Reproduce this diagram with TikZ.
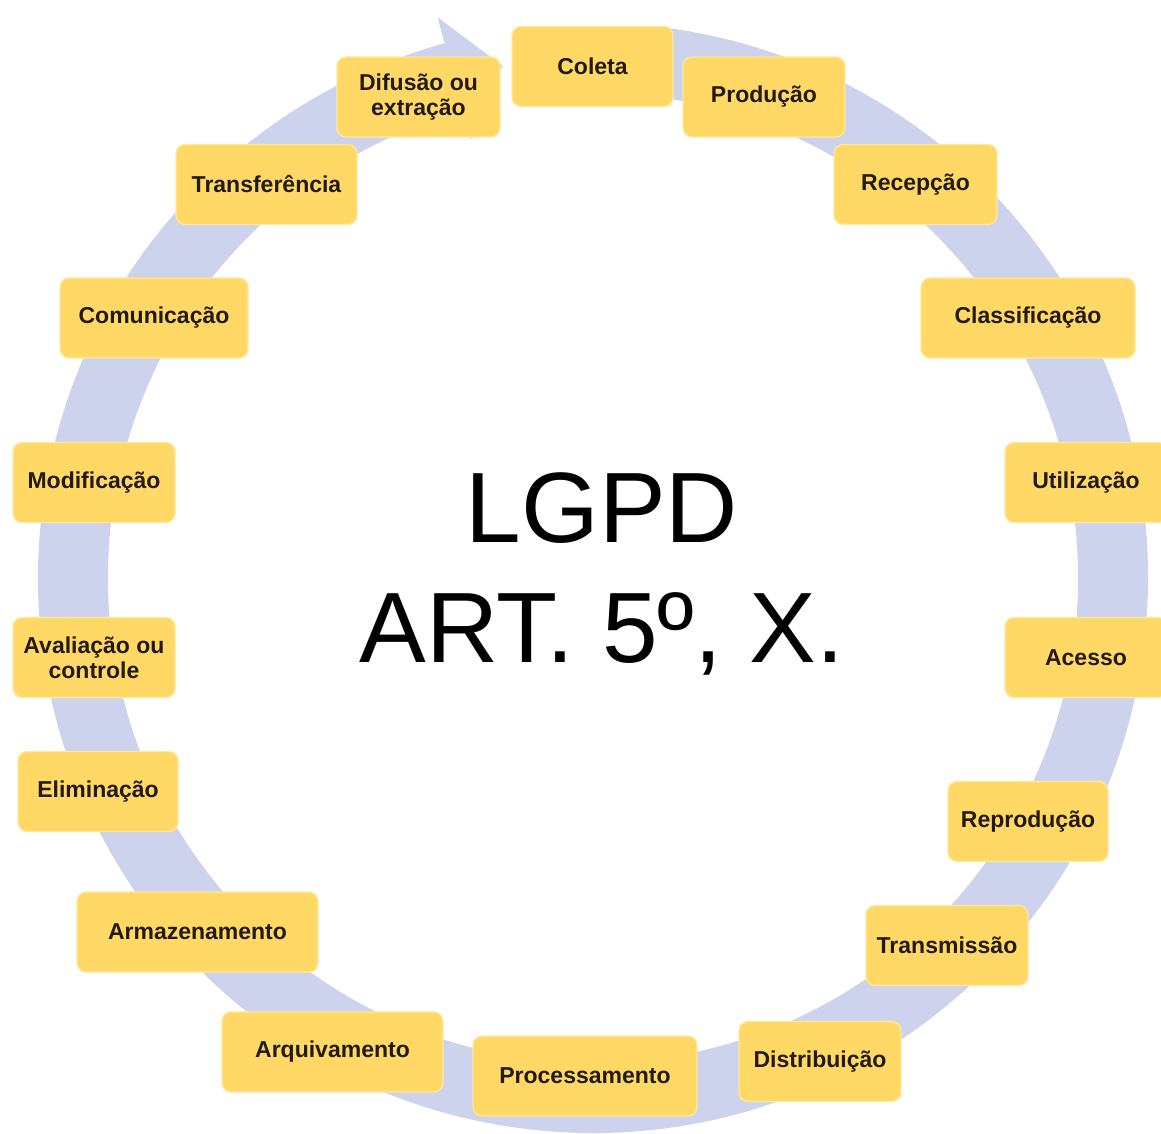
\documentclass[tikz,border=0pt]{standalone}
\usepackage{fontspec}
\setmainfont{Liberation Sans}
\definecolor{ring}{RGB}{205,211,236}
\definecolor{boxfill}{RGB}{255,216,102}
\definecolor{boxline}{RGB}{255,232,160}
\definecolor{ink}{RGB}{35,26,15}
\begin{document}
\begin{tikzpicture}[x=1pt,y=1pt,
  stage/.style={draw=boxline, line width=1.2pt, fill=boxfill,
    rounded corners=9pt, minimum height=80pt, inner sep=0pt,
    align=center, text=ink, font=\bfseries\fontsize{23}{25}\selectfont},
  title/.style={align=center, text=black, font=\fontsize{100}{120}\selectfont}
]
\useasboundingbox (0,0) rectangle (1161,1133);

% circular arrow band running clockwise around the cycle
\begin{scope}[shift={(593,555)}]
  \fill[ring] (84:555) arc[start angle=84, end angle=-254.5, radius=555]
    -- (-254.5:582) -- (-260:520) -- (-254.5:455) -- (-254.5:485)
    arc[start angle=-254.5, end angle=84, radius=485] -- cycle;
\end{scope}

% the stages of the data lifecycle
\node[stage, minimum width=161pt] (coleta)   at (592.5,1066.5) {Coleta};
\node[stage, minimum width=162pt] (producao) at (764,1036)     {Produção};
\node[stage, minimum width=163pt] (recepcao) at (915.5,948.5)  {Recepção};
\node[stage, minimum width=214pt] (classif)  at (1028,815)     {Classificação};
\node[stage, minimum width=162pt] (utiliz)   at (1086,650.5)   {Utilização};
\node[stage, minimum width=162pt] (acesso)   at (1086,475.5)   {Acesso};
\node[stage, minimum width=160pt] (reprod)   at (1028,311.5)   {Reprodução};
\node[stage, minimum width=162pt] (transm)   at (947,187.5)    {Transmissão};
\node[stage, minimum width=162pt] (distrib)  at (820,71.5)     {Distribuição};
\node[stage, minimum width=224pt] (process)  at (585,57)       {Processamento};
\node[stage, minimum width=221pt] (arquiv)   at (332.5,81)     {Arquivamento};
\node[stage, minimum width=241pt] (armaz)    at (197.5,201)    {Armazenamento};
\node[stage, minimum width=160pt] (elimin)   at (98,341.5)     {Eliminação};
\node[stage, minimum width=162pt] (avalia)   at (94,475.5)     {Avaliação ou\\controle};
\node[stage, minimum width=162pt] (modif)    at (94,650.5)     {Modificação};
\node[stage, minimum width=188pt] (comunic)  at (154,815)      {Comunicação};
\node[stage, minimum width=181pt] (transf)   at (266.5,948.5)  {Transferência};
\node[stage, minimum width=163pt] (difusao)  at (418.5,1036)   {Difusão ou\\extração};

% central caption
\node[title] (lgpd) at (602,559) {LGPD\\ART. 5º, X.};
\end{tikzpicture}
\end{document}
